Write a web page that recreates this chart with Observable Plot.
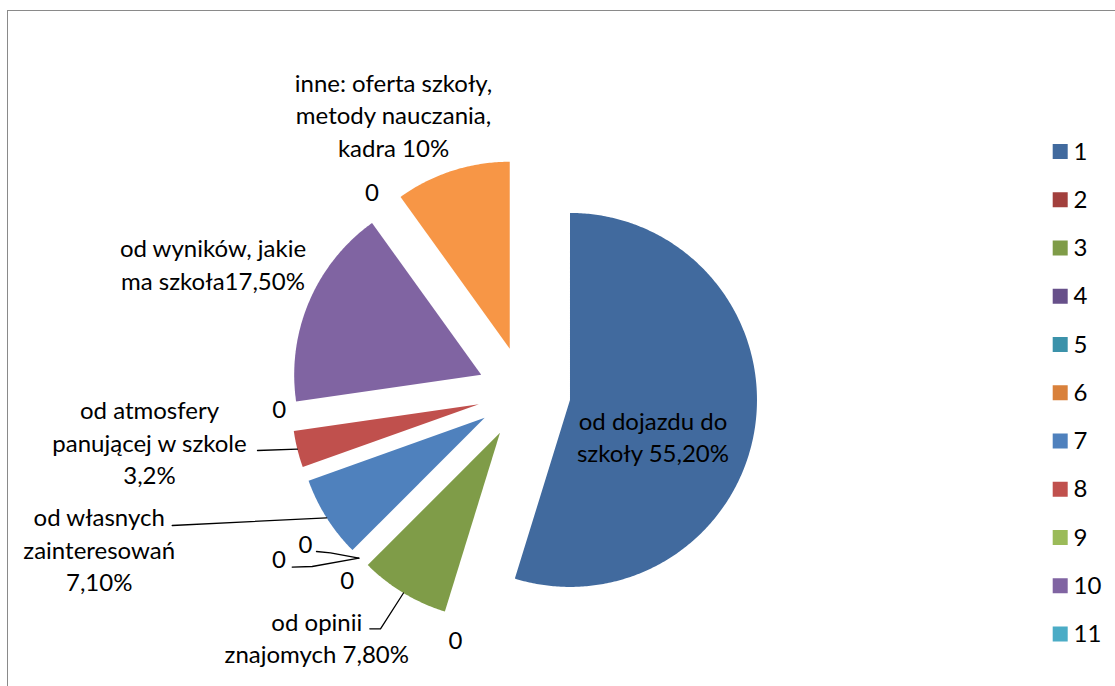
<!DOCTYPE html>
<html>
<head>
<meta charset="utf-8">
<script src="https://cdn.jsdelivr.net/npm/d3@7"></script>
<script src="https://cdn.jsdelivr.net/npm/@observablehq/plot@0.6"></script>
<style>
  html, body { margin: 0; padding: 0; background: #fff; overflow: hidden; }
  #wrap { position: relative; width: 1115px; height: 686px; }
  #frame { position: absolute; left: 7px; top: 10px; width: 1120px; height: 700px;
           border-left: 1.8px solid #8a8a8a; border-top: 1.8px solid #8a8a8a; box-sizing: border-box; }
  #chart { position: absolute; left: 0; top: 0; }
</style>
</head>
<body>
<div id="wrap"><div id="frame"></div><div id="chart"></div></div>
<script>
// ---------------- data ----------------
const categories = ["1", "2", "3", "4", "5", "6", "7", "8", "9", "10", "11", "12"];
const values = [55.2, 0, 7.8, 0, 0, 0, 7.1, 3.2, 0, 17.5, 0, 10];
const labels = [
  "od dojazdu do\nszkoły 55,20%",
  "0",
  "od opinii\nznajomych 7,80%",
  "0", "0", "0",
  "od własnych\nzainteresowań\n7,10%",
  "od atmosfery\npanującej w szkole\n3,2%",
  "0",
  "od wyników, jakie\nma szkoła17,50%",
  "0",
  "inne: oferta szkoły,\nmetody nauczania,\nkadra 10%"
];
const legendCategories = categories.slice(0, 11); // 12th entry is clipped in the original

// ---------------- styles / layout ----------------
const palette = ["#416a9e", "#a2403d", "#7f9c48", "#67508a", "#3b92aa", "#d9813b",
                 "#4f81bd", "#c0504d", "#9bbb59", "#8064a2", "#4bacc6", "#f79646"];
const W = 1115, H = 686;
const pie = {cx: 523.5, cy: 392.5, r: 187, explode: 46.5};
const fontSize = 24, lineGap = 32.4;
// label block: x = centre, y = baseline of last line; leader = label-side points
const labelLayout = [
  {x: 652.5, y: 461.7},
  {x: 455, y: 648.3},
  {x: 316.3, y: 662.4, leader: [[369.3, 628.3], [380, 628.3]]},
  {x: 305, y: 552.3, leader: [[316, 551], [330, 552.3]]},
  {x: 278.5, y: 567.5, leader: [[291.7, 566.6], [311.7, 566]]},
  {x: 346.7, y: 588.3},
  {x: 98.7, y: 590.5, leader: [[171.7, 525]]},
  {x: 149, y: 483.5, leader: [[257, 450]]},
  {x: 278.8, y: 417.3},
  {x: 212.5, y: 289.3},
  {x: 371.5, y: 200},
  {x: 393, y: 156}
];
const legend = {x: 1052.7, size: 15, y0: 151.5, gap: 48.25, textX: 1073};

// ---------------- geometry from values ----------------
const arcs = d3.pie().sort(null).value(d => d)(values);
const slicePts = [];
const leaderPts = [];
arcs.forEach((a, i) => {
  const key = categories[i];
  const mid = (a.startAngle + a.endAngle) / 2;
  const ox = pie.cx + pie.explode * Math.sin(mid);
  const oy = pie.cy - pie.explode * Math.cos(mid);
  if (a.endAngle > a.startAngle) {
    slicePts.push({key, x: ox, y: oy});
    const n = Math.max(2, Math.ceil((a.endAngle - a.startAngle) / 0.01));
    for (let k = 0; k <= n; k++) {
      const t = a.startAngle + (a.endAngle - a.startAngle) * k / n;
      slicePts.push({key, x: ox + pie.r * Math.sin(t), y: oy - pie.r * Math.cos(t)});
    }
  }
  const L = labelLayout[i];
  if (L.leader) {
    L.leader.forEach(([x, y]) => leaderPts.push({key, x, y}));
    leaderPts.push({key, x: ox + pie.r * Math.sin(mid), y: oy - pie.r * Math.cos(mid)});
  }
});
const labelRows = labels.map((t, i) => ({key: categories[i], text: t, x: labelLayout[i].x, y: labelLayout[i].y}));
const legendRows = legendCategories.map((c, i) => ({key: c, y: legend.y0 + i * legend.gap}));

const chart = Plot.plot({
  width: W, height: H,
  margin: 0,
  x: {domain: [0, W], range: [0, W], axis: null},
  y: {domain: [0, H], range: [0, H], axis: null},
  color: {type: "ordinal", domain: categories, range: palette},
  style: {fontFamily: "Lato, 'Open Sans', sans-serif", background: "transparent", overflow: "visible"},
  marks: [
    Plot.line(slicePts, {x: "x", y: "y", z: "key", fill: "key", stroke: "none", curve: "linear-closed"}),
    Plot.line(leaderPts, {x: "x", y: "y", z: "key", stroke: "black", strokeWidth: 1.3}),
    Plot.text(labelRows, {x: "x", y: "y", text: "text", textAnchor: "middle", lineAnchor: "bottom",
                          lineHeight: lineGap / fontSize, fontSize, fill: "black"}),
    Plot.rect(legendRows, {x1: () => legend.x, x2: () => legend.x + legend.size,
                           y1: d => d.y - legend.size / 2, y2: d => d.y + legend.size / 2, fill: "key"}),
    Plot.text(legendRows, {x: () => legend.textX, y: "y", text: "key", textAnchor: "start",
                           fontSize, fill: "black"})
  ]
});
document.getElementById("chart").appendChild(chart);
</script>
</body>
</html>
